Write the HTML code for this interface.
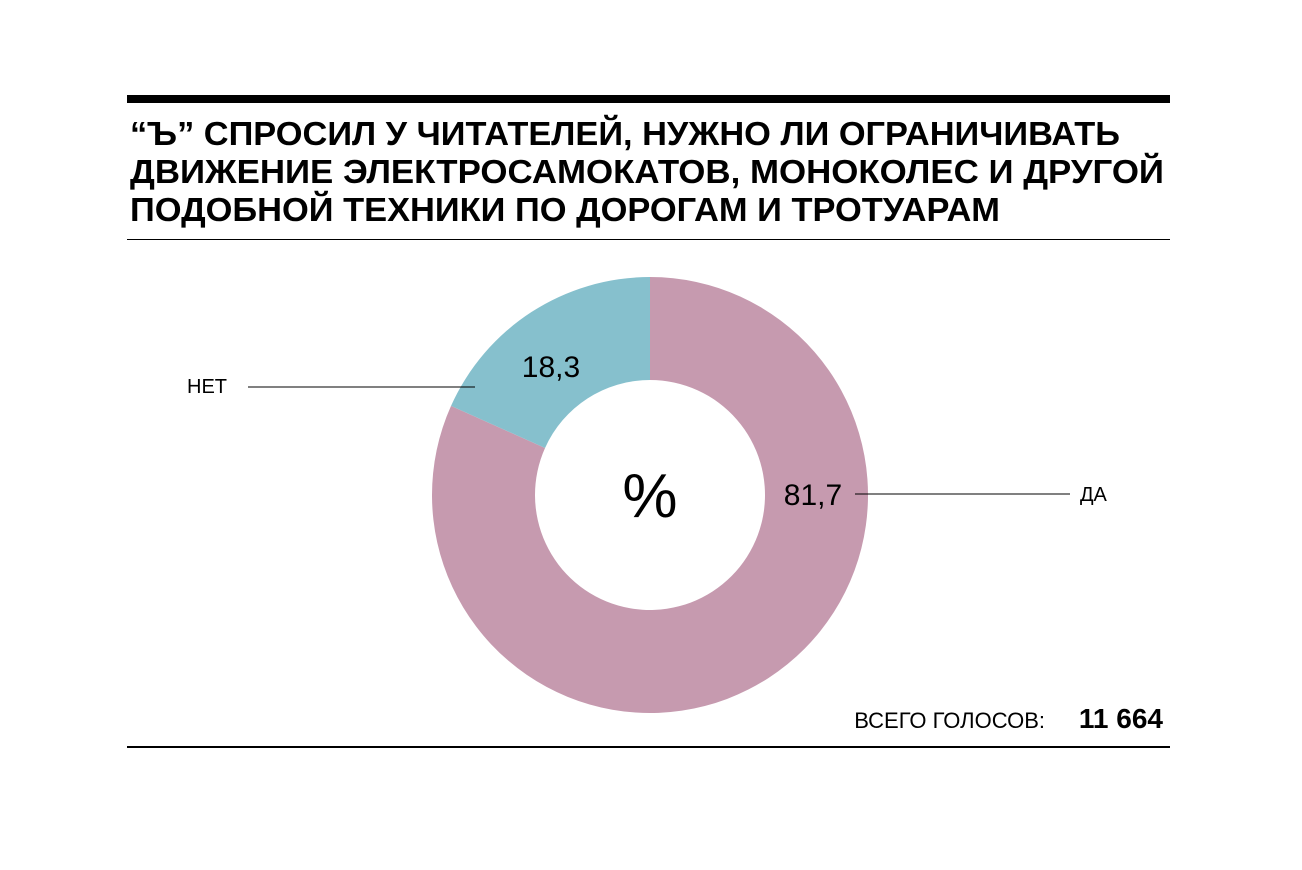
<!DOCTYPE html>
<html><head><meta charset="utf-8"><style>
body{margin:0;background:#fff;}
svg{display:block;font-family:"Liberation Sans",sans-serif;}
</style></head><body>
<svg width="1302" height="870" viewBox="0 0 1302 870">
<rect x="127" y="95" width="1043" height="8" fill="#000"/>
<g font-weight="bold" font-size="33" fill="#000">
<text x="130" y="145" textLength="990" lengthAdjust="spacingAndGlyphs">“Ъ” СПРОСИЛ У ЧИТАТЕЛЕЙ, НУЖНО ЛИ ОГРАНИЧИВАТЬ</text>
<text x="130" y="183" textLength="1034" lengthAdjust="spacingAndGlyphs">ДВИЖЕНИЕ ЭЛЕКТРОСАМОКАТОВ, МОНОКОЛЕС И ДРУГОЙ</text>
<text x="130" y="221" textLength="870" lengthAdjust="spacingAndGlyphs">ПОДОБНОЙ ТЕХНИКИ ПО ДОРОГАМ И ТРОТУАРАМ</text>
</g>
<rect x="127" y="239" width="1043" height="1" fill="#000"/>
<g id="donut"></g>
<text x="650" y="517" font-size="62" text-anchor="middle" fill="#000">%</text>
<line x1="248" y1="387" x2="475" y2="387" stroke="#000" stroke-width="1"/>
<text x="187" y="393" font-size="20" fill="#000">НЕТ</text>
<line x1="855" y1="494" x2="1070" y2="494" stroke="#000" stroke-width="1"/>
<text x="1080" y="501" font-size="20" fill="#000">ДА</text>
<g id="vals"></g>
<text x="1045" y="728" font-size="22" text-anchor="end" fill="#000">ВСЕГО ГОЛОСОВ:</text>
<text x="1163" y="728" font-size="28" font-weight="bold" text-anchor="end" fill="#000">11 664</text>
<rect x="127" y="746" width="1043" height="2" fill="#000"/>
</svg>
<script>
const categories=["ДА","НЕТ"];
const values=[81.7,18.3];
const labels=["81,7","18,3"];
const colors=["#c69aaf","#86c0cd"];
const cx=650,cy=495,R=218,r=115;
const ns="http://www.w3.org/2000/svg";
const g=document.getElementById('donut');
const total=values.reduce((a,b)=>a+b,0);
function pt(a,rad){return [cx+rad*Math.sin(a),cy-rad*Math.cos(a)];}
let acc=0;
values.forEach((v,i)=>{
  const a0=acc/total*2*Math.PI;acc+=v;const a1=acc/total*2*Math.PI;
  const large=(a1-a0)>Math.PI?1:0;
  const p0=pt(a0,R),p1=pt(a1,R),q1=pt(a1,r),q0=pt(a0,r);
  const p=document.createElementNS(ns,'path');
  p.setAttribute('d',`M${p0}A${R},${R} 0 ${large} 1 ${p1}L${q1}A${r},${r} 0 ${large} 0 ${q0}Z`);
  p.setAttribute('fill',colors[i]);
  
  
  g.appendChild(p);
});
const vg=document.getElementById('vals');
const lp=[[813,505],[551,377]];
labels.forEach((t,i)=>{
  const el=document.createElementNS(ns,'text');
  el.setAttribute('x',lp[i][0]);el.setAttribute('y',lp[i][1]);
  el.setAttribute('font-size','30');el.setAttribute('text-anchor','middle');
  el.textContent=t;
  
  
  vg.appendChild(el);
});
</script>
</body></html>
